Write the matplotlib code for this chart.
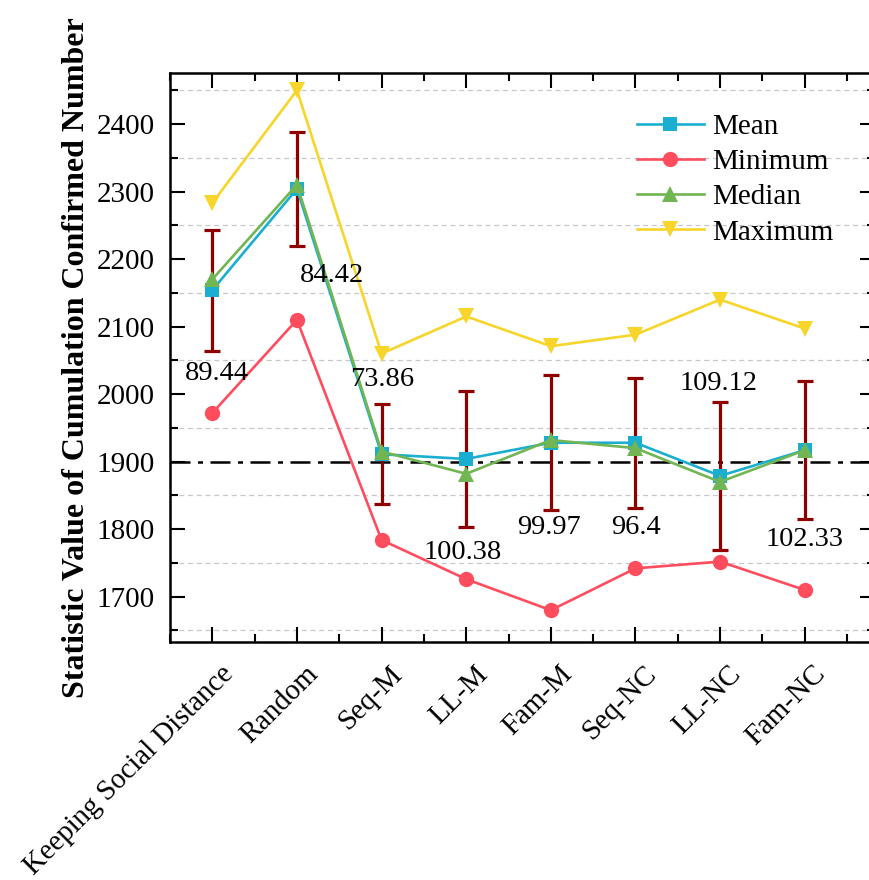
import numpy as np
import matplotlib
matplotlib.use("Agg")
import matplotlib.pyplot as plt
from matplotlib.ticker import MultipleLocator, FixedLocator
from matplotlib.transforms import ScaledTranslation

plt.rcParams['font.family'] = ['Liberation Serif', 'DejaVu Serif']

categories = ["Keeping Social Distance", "Random", "Seq-M", "LL-M",
              "Fam-M", "Seq-NC", "LL-NC", "Fam-NC"]
mean_vals = [2154, 2304, 1911, 1904, 1928, 1928, 1879, 1917]
min_vals = [1972, 2110, 1784, 1726, 1680, 1742, 1752, 1710]
median_vals = [2170, 2310, 1915, 1882, 1932, 1920, 1870, 1917]
max_vals = [2283, 2450, 2060, 2115, 2071, 2088, 2140, 2097]
std_vals = [89.44, 84.42, 73.86, 100.38, 99.97, 96.4, 109.12, 102.33]
reference_level = 1900

# label placement: (x offset in category units, y position in data units)
label_pos = [(0.06, 2030), (0.42, 2176), (0.01, 2021), (-0.04, 1766),
             (-0.02, 1802), (0.01, 1802), (-0.02, 2015), (0.0, 1785)]

colors = {
    "Mean": "#1aafd0",
    "Minimum": "#ff4d5e",
    "Median": "#72b553",
    "Maximum": "#f7d52b",
}
err_color = "#8e0000"

fig = plt.figure(figsize=(8.7, 8.8), dpi=100)
ax = fig.add_axes([0.1954, 0.2705, 0.8103, 0.6469])

x = np.arange(len(categories))

ax.errorbar(x, mean_vals, yerr=std_vals, fmt='none', ecolor=err_color,
            elinewidth=2.3, capsize=5.5, capthick=2.3, zorder=2)

ax.axhline(reference_level, color='black', lw=1.8, ls=(0, (8, 3, 2, 3)), zorder=1.5)

series = [
    ("Mean", mean_vals, 's', 9.5),
    ("Minimum", min_vals, 'o', 11),
    ("Median", median_vals, '^', 12),
    ("Maximum", max_vals, 'v', 12),
]
for i, (name, vals, mk, ms) in enumerate(series):
    ax.plot(x, vals, color=colors[name], lw=1.9, marker=mk, ms=ms,
            markeredgewidth=0, label=name, zorder=3 + i)

for xi, (dx, ly), s in zip(x, label_pos, std_vals):
    ax.text(xi + dx, ly, f"{s:g}", ha='center', va='center', fontsize=20.5,
            color='black', zorder=10)

ax.set_xlim(-0.5, 7.83)
ax.set_ylim(1633, 2476)

ax.xaxis.set_major_locator(FixedLocator(x))
ax.xaxis.set_minor_locator(MultipleLocator(0.5))
ax.yaxis.set_major_locator(MultipleLocator(100))
ax.yaxis.set_minor_locator(MultipleLocator(50))
ax.set_yticks(np.arange(1700, 2401, 100))
ax.set_xticks(x)
ax.set_xticklabels(categories, rotation=45, ha='right', va='top',
                   rotation_mode='anchor', fontsize=20.7)
ax.tick_params(axis='both', which='both', direction='in', top=True, right=True,
               width=1.5, color='black')
ax.tick_params(axis='both', which='major', length=11)
ax.tick_params(axis='both', which='minor', length=6)
ax.tick_params(axis='y', labelsize=21, pad=11)
ax.tick_params(axis='x', pad=0)
shift = ScaledTranslation(0.08, -0.19, fig.dpi_scale_trans)
for lab in ax.get_xticklabels():
    lab.set_transform(lab.get_transform() + shift)

# dashed grid at the minor (half-hundred) levels only
for yv in np.arange(1650, 2476, 100):
    ax.axhline(yv, color='#c8c8c8', lw=0.9, ls=(0, (4, 3)), zorder=0.5)

for sp in ax.spines.values():
    sp.set_linewidth(1.8)

ax.set_ylabel("Statistic Value of Cumulation Confirmed Number", fontsize=23,
              fontweight='bold', labelpad=4)

ax.legend(loc='upper left', bbox_to_anchor=(0.662, 0.928), frameon=False,
          fontsize=21, handlelength=2.3, labelspacing=0.3, handletextpad=0.3,
          borderaxespad=0, borderpad=0)

fig.savefig("out.png", dpi=100)
